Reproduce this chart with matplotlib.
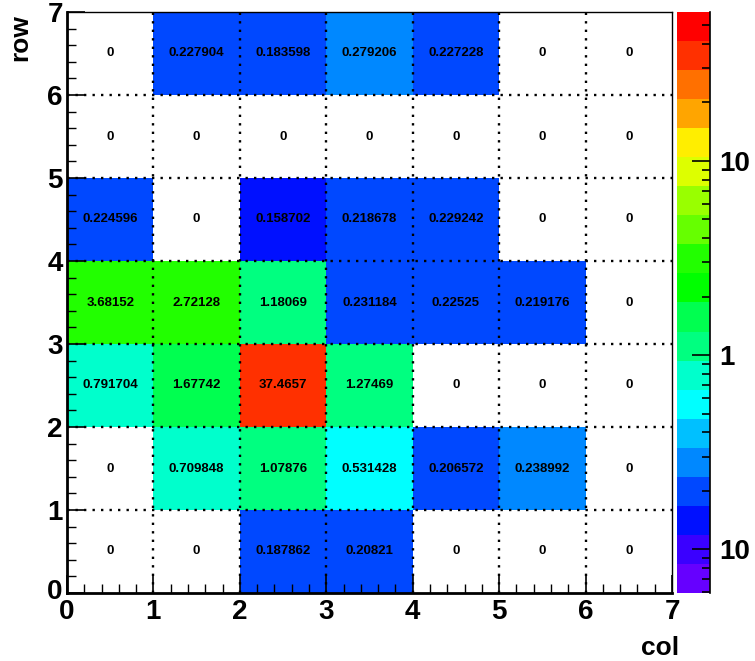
import numpy as np
import matplotlib
matplotlib.use("Agg")
import matplotlib.pyplot as plt
import matplotlib.transforms as mtransforms
from matplotlib.colors import ListedColormap, LogNorm
from matplotlib.ticker import FixedLocator, FixedFormatter, NullFormatter
from matplotlib.lines import Line2D

plt.rcParams['font.family'] = ['Liberation Sans', 'DejaVu Sans']
plt.rcParams['font.weight'] = 'bold'

# data: rows from bottom (row 0) to top (row 6), columns 0..6
cols = [0, 1, 2, 3, 4, 5, 6]
rows = [0, 1, 2, 3, 4, 5, 6]
row0 = [0, 0, 0.187862, 0.20821, 0, 0, 0]
row1 = [0, 0.709848, 1.07876, 0.531428, 0.206572, 0.238992, 0]
row2 = [0.791704, 1.67742, 37.4657, 1.27469, 0, 0, 0]
row3 = [3.68152, 2.72128, 1.18069, 0.231184, 0.22525, 0.219176, 0]
row4 = [0.224596, 0, 0.158702, 0.218678, 0.229242, 0, 0]
row5 = [0, 0, 0, 0, 0, 0, 0]
row6 = [0, 0.227904, 0.183598, 0.279206, 0.227228, 0, 0]
values = np.array([row0, row1, row2, row3, row4, row5, row6])

palette = ['#6600ff', '#3a00ff', '#0010ff', '#0048ff', '#0088ff', '#00c0ff',
           '#00ffff', '#00ffcc', '#00ff80', '#00ff50', '#00ff00', '#22ff00',
           '#66ff00', '#99ff00', '#ddff00', '#ffee00', '#ffa500', '#ff7000',
           '#ff3000', '#ff0000']
zmin, zmax = 10 ** -1.225, 10 ** 1.767

cmap = ListedColormap(palette)
cmap.set_bad('white')
norm = LogNorm(vmin=zmin, vmax=zmax)

W, H = 755, 661
fig = plt.figure(figsize=(W / 100, H / 100), dpi=100)
L, R, T, B = 67, 672, 12, 593
ax = fig.add_axes([L / W, 1 - B / H, (R - L) / W, (B - T) / H])
cax = fig.add_axes([677 / W, 1 - B / H, 33 / W, (B - T) / H])

xe = np.arange(len(cols) + 1)
ye = np.arange(len(rows) + 1)
masked = np.ma.masked_where(values <= 0, values)
mesh = ax.pcolormesh(xe, ye, masked, cmap=cmap, norm=norm, zorder=1)

for i, r in enumerate(rows):
    for j, c in enumerate(cols):
        v = values[i, j]
        ax.text(c + 0.5, r + 0.5, f"{v:g}", ha='center', va='center',
                fontsize=9.5, fontweight='bold', color='black', zorder=5)

for k in range(1, 7):
    ax.axvline(k, color='black', lw=1.7, ls=(0, (1, 2.6)), zorder=3)
    ax.axhline(k, color='black', lw=1.7, ls=(0, (1, 2.6)), zorder=3)

ax.set_xlim(0, 7)
ax.set_ylim(0, 7)
ax.set_xticks(range(8))
ax.set_yticks(range(8))
ax.set_xticks(np.arange(0, 7.01, 0.2), minor=True)
ax.set_yticks(np.arange(0, 7.01, 0.2), minor=True)
ax.tick_params(which='both', direction='in', top=False, right=False)
ax.tick_params(which='major', length=13, width=1.2, labelsize=20, pad=3)
ax.tick_params(axis='x', which='major', pad=4)
ax.tick_params(which='minor', length=6.5, width=1.0)
for lab in ax.get_xticklabels() + ax.get_yticklabels():
    lab.set_fontweight('bold')
# nudge the y-axis "0" label upward slightly, as in the reference
ylab0 = ax.yaxis.get_major_ticks()[0].label1
ylab0.set_transform(ylab0.get_transform() +
                    mtransforms.ScaledTranslation(0, 4 / 100, fig.dpi_scale_trans))
ax.spines['left'].set_linewidth(2)
ax.spines['bottom'].set_linewidth(2)
ax.spines['top'].set_linewidth(1)
ax.spines['right'].set_linewidth(1)

cb = fig.colorbar(mesh, cax=cax)
cb.outline.set_visible(False)
cax.add_line(Line2D([1, 1], [0, 1], transform=cax.transAxes, color='black',
                    lw=1.2, clip_on=False))
cax.yaxis.set_major_locator(FixedLocator([0.1, 1, 10]))
cax.yaxis.set_major_formatter(FixedFormatter(['10', '1', '10']))
minor = [m * 10.0 ** e for e in (-2, -1, 0, 1) for m in range(2, 10)]
minor = [m for m in minor if zmin <= m <= zmax]
cax.yaxis.set_minor_locator(FixedLocator(minor))
cax.yaxis.set_minor_formatter(NullFormatter())
cax.tick_params(which='both', direction='in', left=False, right=True)
cax.tick_params(which='major', length=13, width=1.2, labelsize=20, pad=7)
cax.tick_params(which='minor', length=6, width=1.2)
for lab in cax.get_yticklabels():
    lab.set_fontweight('bold')

fig.text(20 / W, 1 - 14 / H, 'row', rotation=90, ha='center', va='top',
         fontsize=19, fontweight='bold')
fig.text(660 / W, 1 - 648 / H, 'col', ha='center', va='center',
         fontsize=19, fontweight='bold')

fig.savefig('out.png', dpi=100)
